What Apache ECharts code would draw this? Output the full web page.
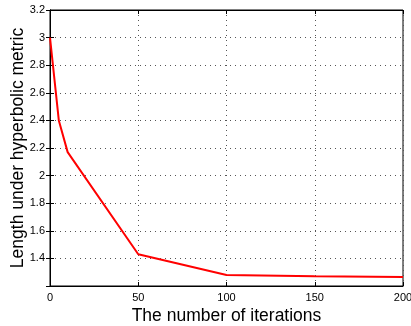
<!DOCTYPE html>
<html>
<head>
<meta charset="utf-8">
<script src="https://cdn.jsdelivr.net/npm/echarts@6/dist/echarts.min.js"></script>
<style>html,body{margin:0;padding:0;background:#fff;}#c{width:411px;height:326px;}</style>
</head>
<body>
<div id="c"></div>
<script>
const iterations = [0, 5, 10, 50, 100, 150, 200];
const lengths = [3.0, 2.40, 2.17, 1.43, 1.28, 1.27, 1.265];
const xTicks = [0, 50, 100, 150, 200];
const yTicks = [1.2, 1.4, 1.6, 1.8, 2.0, 2.2, 2.4, 2.6, 2.8, 3.0, 3.2];

const font = 'Liberation Sans, Arial, Helvetica, sans-serif';
const chart = echarts.init(document.getElementById('c'));
const grid = {left: 50, right: 8, top: 10, bottom: 40, show: true, borderColor: '#000', borderWidth: 1,
  containLabel: false, outerBoundsMode: 'none'};
chart.setOption({
  animation: false,
  grid: grid,
  xAxis: [{
    type: 'value', min: xTicks[0], max: xTicks[xTicks.length-1], interval: 50,
    name: 'The number of iterations', nameLocation: 'middle', nameGap: 21, nameMoveOverlap: false,
    nameTextStyle: {fontFamily: font, fontSize: 17.5, color: '#000'},
    axisLine: {show: true, onZero: false, lineStyle: {color: '#000', width: 1}},
    axisTick: {show: true, inside: true, length: 4, lineStyle: {color: '#000'}},
    axisLabel: {fontFamily: font, fontSize: 11, color: '#000', margin: 6},
    splitLine: {show: true, lineStyle: {color: '#555', type: [1, 4], width: 1}}
  }, {
    type: 'value', position: 'top', min: 0, max: 200, interval: 50,
    axisLine: {show: true, lineStyle: {color: '#000'}},
    axisTick: {show: true, inside: true, length: 4, lineStyle: {color: '#000'}},
    axisLabel: {show: false}, splitLine: {show: false}
  }],
  yAxis: [{
    type: 'value', min: yTicks[0], max: yTicks[yTicks.length-1], interval: 0.2,
    name: 'Length under hyperbolic metric', nameLocation: 'middle', nameGap: 23, nameMoveOverlap: false,
    nameTextStyle: {fontFamily: font, fontSize: 17.5, color: '#000'},
    axisLine: {show: true, onZero: false, lineStyle: {color: '#000', width: 1}},
    axisTick: {show: true, inside: true, length: 4, lineStyle: {color: '#000'}},
    axisLabel: {fontFamily: font, fontSize: 11, color: '#000', margin: 5, showMinLabel: false,
      formatter: v => String(Math.round(v * 10) / 10)},
    splitLine: {show: true, lineStyle: {color: '#555', type: [1, 4], width: 1}}
  }, {
    type: 'value', position: 'right', min: 1.2, max: 3.2, interval: 0.2,
    axisLine: {show: true, lineStyle: {color: '#000'}},
    axisTick: {show: true, inside: true, length: 4, lineStyle: {color: '#000'}},
    axisLabel: {show: false}, splitLine: {show: false}
  }],
  series: [{
    type: 'line',
    data: iterations.map((x, i) => [x, lengths[i]]),
    showSymbol: false,
    lineStyle: {color: '#ff0000', width: 2},
    itemStyle: {color: '#ff0000'}
  }]
});
</script>
</body>
</html>
